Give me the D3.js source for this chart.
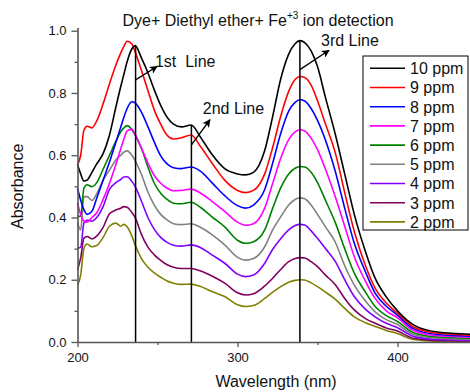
<!DOCTYPE html>
<html>
<head>
<meta charset="utf-8">
<script src="https://cdn.jsdelivr.net/npm/d3@7"></script>
<style>
  body { margin: 0; background: #fff; }
  svg { display: block; font-family: "Liberation Sans", Arial, sans-serif; }
</style>
</head>
<body>
<div id="container-chart"></div>
<script>

// wavelength grid (nm) and absorbance
var wavelength = [200, 202, 204, 206, 209, 212, 216, 220, 224, 227, 229, 231, 234, 236, 240, 244,
                  248, 252, 256, 260, 265, 271, 277, 284, 292, 300, 305, 310, 317, 322, 327, 332,
                  336, 339, 342, 346, 350, 355, 361, 367, 373, 380, 386, 393, 400, 410, 425, 450];

var ppm10 = [0.570, 0.540, 0.517, 0.520, 0.545, 0.572, 0.605, 0.665, 0.755, 0.820, 0.860, 0.900, 0.942, 0.952, 0.912, 0.865,
             0.810, 0.760, 0.722, 0.700, 0.691, 0.697, 0.657, 0.603, 0.557, 0.540, 0.537, 0.545, 0.615, 0.725, 0.845, 0.925,
             0.958, 0.968, 0.962, 0.935, 0.885, 0.785, 0.670, 0.540, 0.410, 0.290, 0.205, 0.145, 0.100, 0.055, 0.032, 0.024];
var ppm9  = [0.570, 0.600, 0.680, 0.693, 0.688, 0.710, 0.765, 0.830, 0.890, 0.928, 0.950, 0.966, 0.957, 0.932, 0.872, 0.808,
             0.745, 0.700, 0.664, 0.652, 0.656, 0.665, 0.627, 0.575, 0.520, 0.487, 0.480, 0.487, 0.540, 0.625, 0.725, 0.805,
             0.843, 0.853, 0.850, 0.825, 0.775, 0.700, 0.610, 0.480, 0.355, 0.245, 0.173, 0.125, 0.092, 0.048, 0.028, 0.021];
var ppm8  = [0.494, 0.455, 0.425, 0.410, 0.420, 0.462, 0.520, 0.578, 0.642, 0.690, 0.722, 0.750, 0.772, 0.768, 0.738, 0.692,
             0.642, 0.598, 0.572, 0.560, 0.557, 0.562, 0.548, 0.512, 0.470, 0.438, 0.430, 0.440, 0.490, 0.575, 0.670, 0.742,
             0.770, 0.778, 0.774, 0.750, 0.712, 0.648, 0.550, 0.430, 0.317, 0.225, 0.157, 0.115, 0.086, 0.043, 0.024, 0.018];
var ppm7  = [0.446, 0.410, 0.388, 0.385, 0.400, 0.415, 0.458, 0.510, 0.570, 0.620, 0.652, 0.678, 0.684, 0.667, 0.622, 0.575,
             0.535, 0.510, 0.494, 0.486, 0.487, 0.491, 0.478, 0.452, 0.420, 0.385, 0.375, 0.380, 0.430, 0.510, 0.590, 0.650,
             0.675, 0.682, 0.678, 0.655, 0.618, 0.555, 0.468, 0.372, 0.274, 0.195, 0.140, 0.100, 0.078, 0.037, 0.020, 0.015];
var ppm6  = [0.403, 0.405, 0.494, 0.505, 0.499, 0.512, 0.555, 0.600, 0.645, 0.675, 0.688, 0.695, 0.682, 0.665, 0.622, 0.562,
             0.510, 0.478, 0.458, 0.446, 0.444, 0.449, 0.432, 0.402, 0.370, 0.327, 0.317, 0.322, 0.360, 0.430, 0.495, 0.540,
             0.558, 0.564, 0.562, 0.545, 0.512, 0.455, 0.385, 0.300, 0.221, 0.160, 0.114, 0.085, 0.066, 0.030, 0.016, 0.012];
var ppm5  = [0.382, 0.360, 0.467, 0.467, 0.455, 0.476, 0.520, 0.552, 0.585, 0.600, 0.610, 0.614, 0.600, 0.583, 0.538, 0.482,
             0.440, 0.410, 0.392, 0.380, 0.377, 0.380, 0.368, 0.345, 0.312, 0.272, 0.263, 0.268, 0.306, 0.360, 0.402, 0.440,
             0.458, 0.463, 0.460, 0.440, 0.410, 0.370, 0.322, 0.245, 0.183, 0.132, 0.097, 0.072, 0.056, 0.024, 0.012, 0.009];
var ppm4  = [0.301, 0.305, 0.382, 0.392, 0.388, 0.400, 0.435, 0.490, 0.512, 0.522, 0.530, 0.531, 0.516, 0.500, 0.452, 0.400,
             0.362, 0.336, 0.320, 0.311, 0.308, 0.312, 0.303, 0.280, 0.253, 0.218, 0.210, 0.215, 0.253, 0.298, 0.332, 0.360,
             0.374, 0.378, 0.376, 0.357, 0.333, 0.300, 0.260, 0.200, 0.146, 0.105, 0.081, 0.060, 0.046, 0.018, 0.008, 0.006];
var ppm3  = [0.232, 0.270, 0.333, 0.339, 0.331, 0.340, 0.368, 0.412, 0.424, 0.430, 0.435, 0.433, 0.416, 0.400, 0.345, 0.305,
             0.280, 0.262, 0.248, 0.240, 0.236, 0.236, 0.228, 0.212, 0.189, 0.158, 0.151, 0.155, 0.180, 0.205, 0.233, 0.258,
             0.268, 0.271, 0.270, 0.258, 0.242, 0.215, 0.185, 0.140, 0.103, 0.075, 0.060, 0.045, 0.035, 0.012, 0.005, 0.003];
var ppm2  = [0.183, 0.215, 0.300, 0.315, 0.306, 0.310, 0.336, 0.372, 0.382, 0.372, 0.378, 0.370, 0.340, 0.312, 0.268, 0.240,
             0.222, 0.208, 0.196, 0.189, 0.185, 0.186, 0.178, 0.162, 0.146, 0.120, 0.114, 0.117, 0.140, 0.160, 0.178, 0.192,
             0.198, 0.200, 0.199, 0.190, 0.178, 0.160, 0.138, 0.108, 0.081, 0.062, 0.050, 0.037, 0.027, 0.008, 0.002, 0.001];

var seriesNames  = ["10 ppm", "9 ppm", "8 ppm", "7 ppm", "6 ppm", "5 ppm", "4 ppm", "3 ppm", "2 ppm"];
var seriesValues = [ppm10, ppm9, ppm8, ppm7, ppm6, ppm5, ppm4, ppm3, ppm2];
var seriesColors = ["#000000", "#ff0000", "#0000ff", "#ff00ff", "#008000", "#808080", "#8000ff", "#800060", "#808000"];

var xTicks = [200, 300, 400];
var xMinor = [250, 350, 450];
var yTicks = [0.0, 0.2, 0.4, 0.6, 0.8, 1.0];
var yMinor = [0.1, 0.3, 0.5, 0.7, 0.9];

// peak marker lines and their arrow labels
var lineWl     = [236.3, 271.2, 339];
var lineTop    = [0.952, 0.697, 0.968];
var arrowFrom  = [[236.3, 0.842], [271.2, 0.633], [339, 0.875]];
var arrowTo    = [[249.7, 0.885], [282.8, 0.714], [357.2, 0.937]];
var lineLabels = ["1st  Line", "2nd Line", "3rd Line"];
var labelPos   = [[248.4, 0.883], [278.3, 0.731], [352.2, 0.950]];

var width = 470, height = 392;

var x = d3.scaleLinear().domain([200, 450]).range([77.5, 477.5]);
var y = d3.scaleLinear().domain([0, 1.01]).range([342, 27.6]);

var svg = d3.select("#container-chart")
            .append("svg")
            .attr("width", width)
            .attr("height", height);

// spectra
var line = d3.line()
  .x(function(d){ return x(d[0]); })
  .y(function(d){ return y(d[1]); })
  .curve(d3.curveMonotoneX);

svg.append("g").selectAll("path")
  .data(seriesValues.slice().reverse())
  .enter()
  .append("path")
  .attr("d", function(vals){
    return line(vals.map(function(v, i){ return [wavelength[i], v]; }));
  })
  .style("fill", "none")
  .style("stroke", function(d, i){
    return seriesColors[seriesColors.length - 1 - i];
  })
  .style("stroke-width", 1.6);

// vertical peak lines
svg.append("g").selectAll("line")
  .data(lineWl)
  .enter()
  .append("line")
  .attr("x1", function(d){ return x(d); })
  .attr("x2", function(d){ return x(d); })
  .attr("y1", y(0))
  .attr("y2", function(d, i){ return y(lineTop[i]); })
  .style("stroke", "#000")
  .style("stroke-width", 1.5);

// arrows
svg.append("defs").append("marker")
  .attr("id", "arrowhead")
  .attr("markerUnits", "userSpaceOnUse")
  .attr("viewBox", "0 0 10 10")
  .attr("refX", 9)
  .attr("refY", 5)
  .attr("markerWidth", 9)
  .attr("markerHeight", 8)
  .attr("orient", "auto")
  .append("path")
  .attr("d", "M0,0 L10,5 L0,10 L2.5,5 Z")
  .style("fill", "#000");

svg.append("g").selectAll("line")
  .data(arrowFrom)
  .enter()
  .append("line")
  .attr("x1", function(d){ return x(d[0]); })
  .attr("y1", function(d){ return y(d[1]); })
  .attr("x2", function(d, i){ return x(arrowTo[i][0]); })
  .attr("y2", function(d, i){ return y(arrowTo[i][1]); })
  .attr("marker-end", "url(#arrowhead)")
  .style("stroke", "#000")
  .style("stroke-width", 1.3);

svg.append("g").selectAll("text")
  .data(lineLabels)
  .enter()
  .append("text")
  .attr("x", function(d, i){ return x(labelPos[i][0]); })
  .attr("y", function(d, i){ return y(labelPos[i][1]); })
  .attr("font-size", "16px")
  .style("white-space", "pre")
  .style("fill", "#111")
  .text(function(d){ return d; });

// axes
var axisColor = "#555";

var xAxis = svg.append("g")
  .attr("transform", "translate(0," + y(0) + ")")
  .call(d3.axisBottom(x).tickValues(xTicks).tickSize(5).tickSizeOuter(0).tickPadding(6));
svg.append("g")
  .attr("transform", "translate(0," + y(0) + ")")
  .call(d3.axisBottom(x).tickValues(xMinor).tickSize(3).tickSizeOuter(0).tickFormat(""))
  .select(".domain").remove();

var yAxis = svg.append("g")
  .attr("transform", "translate(" + x(200) + ",0)")
  .call(d3.axisLeft(y).tickValues(yTicks).tickSize(6).tickSizeOuter(0).tickPadding(5)
          .tickFormat(d3.format(".1f")));
svg.append("g")
  .attr("transform", "translate(" + x(200) + ",0)")
  .call(d3.axisLeft(y).tickValues(yMinor).tickSize(3).tickSizeOuter(0).tickFormat(""))
  .select(".domain").remove();

svg.selectAll(".domain").style("stroke", axisColor).style("stroke-width", 1.6);
svg.selectAll(".tick line").style("stroke", axisColor).style("stroke-width", 1.3);
svg.selectAll(".tick text")
  .attr("font-size", "13px")
  .style("font-family", "\"Liberation Sans\", Arial, sans-serif")
  .style("fill", "#111");

// axis titles
svg.append("text")
  .attr("x", 276)
  .attr("y", 386.5)
  .attr("text-anchor", "middle")
  .attr("font-size", "16px")
  .style("fill", "#111")
  .text("Wavelength (nm)");

svg.append("text")
  .attr("transform", "translate(23," + ((y(0) + y(1.0)) / 2) + ") rotate(-90)")
  .attr("text-anchor", "middle")
  .attr("font-size", "16px")
  .style("fill", "#111")
  .text("Absorbance");

// title
var title = svg.append("text")
  .attr("x", 258)
  .attr("y", 26)
  .attr("text-anchor", "middle")
  .attr("font-size", "16px")
  .style("fill", "#111");
title.append("tspan").text("Dye+ Diethyl ether+ Fe");
title.append("tspan").attr("font-size", "10px").attr("dy", -7).text("+3");
title.append("tspan").attr("dy", 7).text(" ion detection");

// legend
var legend = svg.append("g").attr("transform", "translate(363,56)");

legend.append("rect")
  .attr("width", 105)
  .attr("height", 174)
  .style("fill", "#fff")
  .style("stroke", "#000")
  .style("stroke-width", 1);

legend.selectAll("line")
  .data(seriesNames)
  .enter()
  .append("line")
  .attr("x1", 7)
  .attr("x2", 42)
  .attr("y1", function(d, i){ return 12.3 + 19.2 * i; })
  .attr("y2", function(d, i){ return 12.3 + 19.2 * i; })
  .style("stroke", function(d, i){ return seriesColors[i]; })
  .style("stroke-width", 1.6);

legend.selectAll("text")
  .data(seriesNames)
  .enter()
  .append("text")
  .attr("x", 47)
  .attr("y", function(d, i){ return 12.3 + 19.2 * i + 5.8; })
  .attr("font-size", "16px")
  .style("fill", "#111")
  .text(function(d){ return d; });

</script>
</body>
</html>
